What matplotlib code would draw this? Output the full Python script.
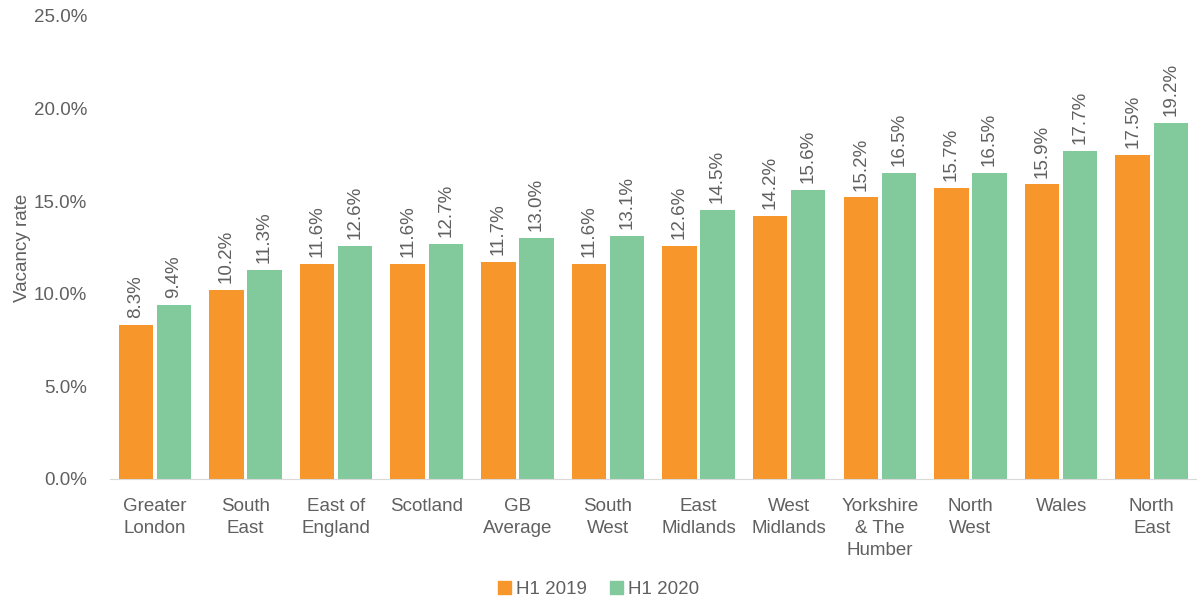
import matplotlib
matplotlib.use("Agg")
import matplotlib.pyplot as plt
import numpy as np
from matplotlib.ticker import FuncFormatter
from matplotlib.patches import Patch

categories = ["Greater\nLondon", "South\nEast", "East of\nEngland", "Scotland", "GB\nAverage",
              "South\nWest", "East\nMidlands", "West\nMidlands", "Yorkshire\n& The\nHumber",
              "North\nWest", "Wales", "North\nEast"]
h1_2019 = [8.3, 10.2, 11.6, 11.6, 11.7, 11.6, 12.6, 14.2, 15.2, 15.7, 15.9, 17.5]
h1_2020 = [9.4, 11.3, 12.6, 12.7, 13.0, 13.1, 14.5, 15.6, 16.5, 16.5, 17.7, 19.2]
series_names = ["H1 2019", "H1 2020"]
yticks = [0, 5, 10, 15, 20, 25]

plt.rcParams['font.family'] = ['Liberation Sans', 'DejaVu Sans']
txt = '#606060'
c19 = '#F7962A'
c20 = '#82CA9C'

fig = plt.figure(figsize=(11.97, 6.0), dpi=100)
ax = fig.add_axes([0.0915, 0.2017, 0.9085, 0.7717])

x = np.arange(len(categories))
w = 0.38
off = 0.21
b1 = ax.bar(x - off, h1_2019, w, color=c19)
b2 = ax.bar(x + off, h1_2020, w, color=c20)

for bars, vals in ((b1, h1_2019), (b2, h1_2020)):
    for r, v in zip(bars, vals):
        ax.annotate(f"{v:.1f}%", (r.get_x() + r.get_width() / 2, v),
                    xytext=(0, 5), textcoords='offset points', rotation=90,
                    ha='center', va='bottom', fontsize=13.5, color=txt)

ax.set_ylim(0, 25)
ax.set_xlim(-0.5, len(categories) - 0.5)
ax.set_yticks(yticks)
ax.yaxis.set_major_formatter(FuncFormatter(lambda v, p: f"{v:.1f}%"))
ax.set_xticks(x)
ax.set_xticklabels(categories, fontsize=13.5, color=txt, linespacing=1.35)
ax.tick_params(axis='y', labelsize=13.5, labelcolor=txt, length=0, pad=16)
ax.tick_params(axis='x', length=0, pad=14)
ax.set_ylabel("Vacancy rate", fontsize=13.5, color=txt, labelpad=2)
for s in ['top', 'right', 'left']:
    ax.spines[s].set_visible(False)
ax.spines['bottom'].set_color('#d9d9d9')

handles = [Patch(color=c19, label=series_names[0]), Patch(color=c20, label=series_names[1])]
fig.legend(handles=handles, loc='lower center', bbox_to_anchor=(0.5, -0.025), ncol=2,
           frameon=False, fontsize=13.5, labelcolor=txt, handlelength=0.7, handleheight=0.7,
           handletextpad=0.3, columnspacing=1.2)

fig.savefig("out.png", dpi=100)
